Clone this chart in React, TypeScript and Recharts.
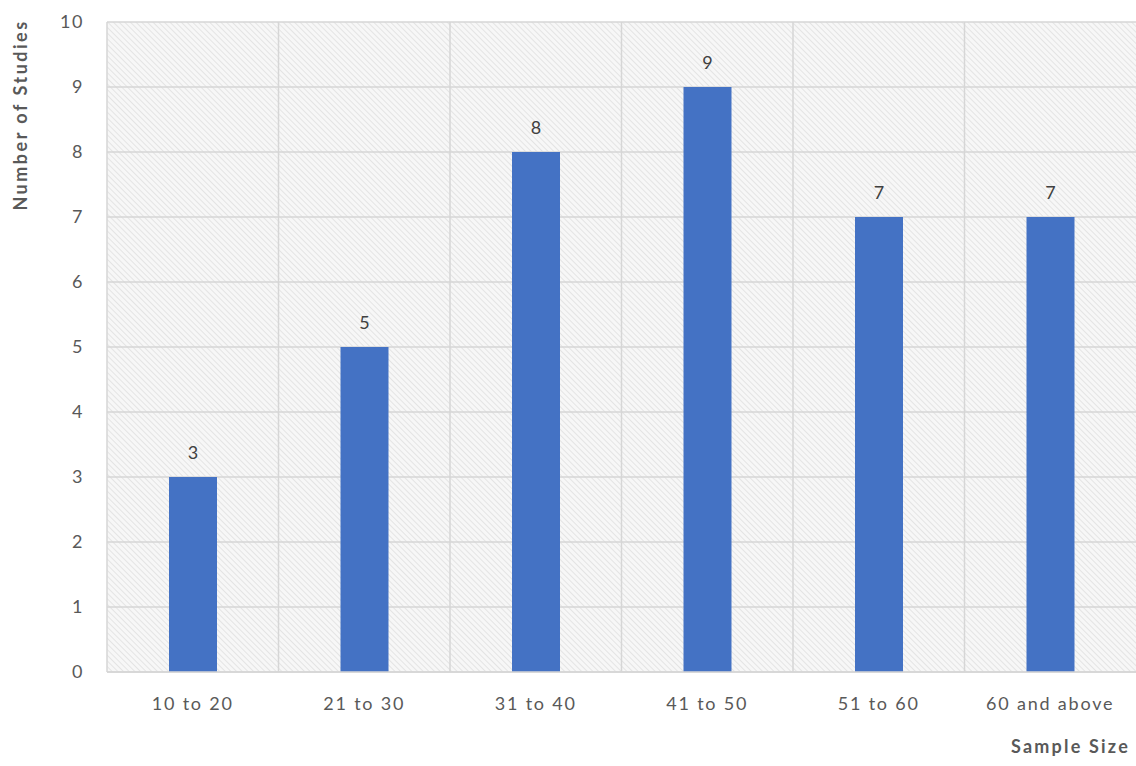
import React from 'react';
import { BarChart, Bar, XAxis, YAxis, CartesianGrid, LabelList } from 'recharts';

const categories = ['10 to 20', '21 to 30', '31 to 40', '41 to 50', '51 to 60', '60 and above'];
const studies = [3, 5, 8, 9, 7, 7];
const yTicks = [0, 1, 2, 3, 4, 5, 6, 7, 8, 9, 10];

const data = categories.map((name, i) => ({ name, value: studies[i] }));

const FONT = 'Lato, "Open Sans", sans-serif';

const YTitle = ({ viewBox }: any) => {
  const x = viewBox.x + 27;
  const y = viewBox.y + 93;
  return (
    <text
      x={x}
      y={y}
      transform={`rotate(-90, ${x}, ${y})`}
      textAnchor="middle"
      fontFamily={FONT}
      fontSize={18}
      fontWeight="bold"
      letterSpacing={2.5}
      fill="#595959"
    >
      Number of Studies
    </text>
  );
};

const XTitle = ({ viewBox }: any) => (
  <text
    x={viewBox.x + viewBox.width - 6}
    y={viewBox.y + 81}
    textAnchor="end"
    fontFamily={FONT}
    fontSize={18}
    fontWeight="bold"
    letterSpacing={2.2}
    fill="#595959"
  >
    Sample Size
  </text>
);

export default function App() {
  return (
    <div style={{ position: 'absolute', left: 0, top: 0, width: 1136, height: 766, background: '#fff' }}>
      <BarChart width={1136} height={766} data={data} margin={{ top: 22, right: 0, bottom: 0, left: 0 }}>
        <defs>
          <pattern id="hatch" width="4" height="4" patternUnits="userSpaceOnUse" patternTransform="rotate(-45)">
            <rect width="4" height="4" fill="#f7f7f7" />
            <line x1="0" y1="0" x2="0" y2="4" stroke="#e0e0e0" strokeWidth="1.6" />
          </pattern>
        </defs>
        <CartesianGrid
          fill="url(#hatch)"
          fillOpacity={1}
          stroke="#d6d6d6"
          strokeWidth={1.5}
          verticalCoordinatesGenerator={({ offset }: any) =>
            categories.map((_, i) => offset.left + (i * offset.width) / categories.length)
          }
        />
        <XAxis
          dataKey="name"
          height={94}
          axisLine={{ stroke: '#d6d6d6', strokeWidth: 1.5 }}
          tickLine={false}
          tickMargin={19}
          tick={{ fill: '#595959', fontSize: 18, fontFamily: FONT, letterSpacing: 1.8 }}
          label={<XTitle />}
        />
        <YAxis
          width={107}
          domain={[0, 10]}
          ticks={yTicks}
          axisLine={false}
          tickLine={false}
          tickMargin={17}
          tick={{ fill: '#595959', fontSize: 18, fontFamily: FONT, letterSpacing: 1.5 }}
          label={<YTitle />}
        />
        <Bar dataKey="value" fill="#4472C4" barSize={48} isAnimationActive={false}>
          <LabelList
            dataKey="value"
            position="top"
            offset={18}
            fill="#404040"
            fontSize={18}
            fontFamily={FONT}
          />
        </Bar>
      </BarChart>
    </div>
  );
}
